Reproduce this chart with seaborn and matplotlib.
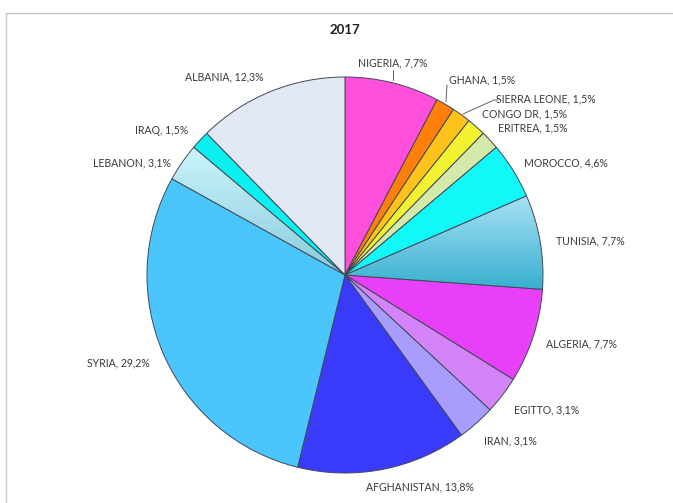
import numpy as np
import matplotlib
matplotlib.use("Agg")
import matplotlib.pyplot as plt
import seaborn as sns
from matplotlib.colors import LinearSegmentedColormap

# dati: numero di casi per paese, 2017
paesi = ["NIGERIA", "GHANA", "SIERRA LEONE", "CONGO DR", "ERITREA", "MOROCCO",
         "TUNISIA", "ALGERIA", "EGITTO", "IRAN", "AFGHANISTAN", "SYRIA",
         "LEBANON", "IRAQ", "ALBANIA"]
casi = [5, 1, 1, 1, 1, 3, 5, 5, 2, 2, 9, 19, 2, 1, 8]
colori = ["#FF4FDC", "#FF7F0A", "#FFC21A", "#F2F230", "#D5EAAA", "#10F8F8",
          "#6CCAE4", "#E840F8", "#D484F8", "#A89CFC", "#3A3AFA", "#4AC6FC",
          "#AEE2EE", "#08F0F0", "#E2E9F4"]
# sfumature (alto, basso) per alcuni spicchi
sfumature = {"TUNISIA": ("#A8E2F5", "#38B0D0"), "LEBANON": ("#CCF4FB", "#88CCDE")}

# posizioni etichette in pixel (x, y dall'alto)
pos_etichette = {
    "NIGERIA": (393, 63), "GHANA": (482, 80), "SIERRA LEONE": (546, 99),
    "CONGO DR": (525, 114), "ERITREA": (533, 128), "MOROCCO": (566, 163),
    "TUNISIA": (590, 241), "ALGERIA": (582, 344), "EGITTO": (547, 410),
    "IRAN": (510, 441), "AFGHANISTAN": (420, 487), "SYRIA": (118, 363),
    "LEBANON": (132, 163), "IRAQ": (162, 130), "ALBANIA": (224, 77),
}

W, H = 673, 503
sns.set_style("white")
plt.rcParams['font.family'] = ['Lato', 'DejaVu Sans']

fig = plt.figure(figsize=(W / 100, H / 100), dpi=100)
ax = fig.add_axes([0, 0, 1, 1])

cx, cy, r = 345, H - 275, 198
wedges, _ = ax.pie(casi, colors=colori, startangle=90, counterclock=False,
                   center=(cx, cy), radius=r, frame=True,
                   wedgeprops=dict(edgecolor="#404858", linewidth=0.7))

# sfumature verticali dentro gli spicchi
for w, nome in zip(wedges, paesi):
    if nome not in sfumature:
        continue
    alto, basso = sfumature[nome]
    cmap = LinearSegmentedColormap.from_list(nome, [basso, alto])
    ang = np.deg2rad(np.linspace(w.theta1, w.theta2, 60))
    ys = np.concatenate([[cy], cy + r * np.sin(ang)])
    grad = np.linspace(0, 1, 256).reshape(-1, 1)
    im = ax.imshow(grad, cmap=cmap, origin="lower", aspect="auto",
                   extent=(cx - r, cx + r, ys.min(), ys.max()),
                   zorder=w.get_zorder())
    im.set_clip_path(w)
    w.set_facecolor("none")
    w.set_zorder(w.get_zorder() + 0.1)

ax.set_xlim(0, W)
ax.set_ylim(0, H)
ax.set_aspect("auto")
ax.axis("off")

# cornice grigia: solo lati alto e sinistro
ax.plot([6, 6, W], [0, H - 13, H - 13], color="#C8C8C8", linewidth=1.0)

totale = sum(casi)
for nome, v in zip(paesi, casi):
    x, y = pos_etichette[nome]
    perc = f"{100 * v / totale:.1f}".replace(".", ",")
    ax.text(x, H - y, f"{nome}, {perc}%", ha="center", va="center",
            fontsize=7.6, color="#3A3A3A")

# linee guida
lc = dict(color="#606060", linewidth=0.7)
ax.plot([393, 393], [H - 70, H - 80], **lc)
ax.plot([447, 446], [H - 85, H - 102], **lc)
ax.plot([463, 494, 498], [H - 114, H - 100, H - 100], **lc)

ax.text(345, H - 30, "2017", ha="center", va="center", fontsize=9.5,
        fontweight="bold", color="#202020")

fig.savefig("out.png", dpi=100)
